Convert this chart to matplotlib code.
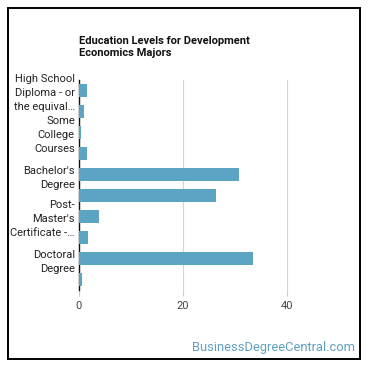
import matplotlib
matplotlib.use("Agg")
import matplotlib.pyplot as plt
from matplotlib.patches import Rectangle

categories = ["High School Diploma - or the equivalent", "Post-Secondary Certificate",
              "Some College Courses", "Associate's Degree", "Bachelor's Degree",
              "Master's Degree", "Post-Master's Certificate", "First Professional Degree",
              "Doctoral Degree", "Post-Doctoral Training"]
values = [1.5, 1.0, 0.3, 1.6, 30.8, 26.3, 3.9, 1.8, 33.5, 0.6]
# only every other label fits on the axis
tick_labels = ["High School\nDiploma - or\nthe equival\u2026", "",
               "Some\nCollege\nCourses", "",
               "Bachelor's\nDegree", "",
               "Post-\nMaster's\nCertificate -\u2026", "",
               "Doctoral\nDegree", ""]
xticks = [0, 20, 40]

plt.rcParams['font.family'] = ['Roboto', 'DejaVu Sans']

fig = plt.figure(figsize=(3.7, 3.7), dpi=100)
ax = fig.add_axes([79/370, 1 - 290/370, 260/370, 210/370])

ypos = list(range(len(categories)))
ax.barh(ypos, values, height=0.62, color='#5ba4c3', zorder=3)
ax.set_ylim(len(categories) - 0.5, -0.5)
ax.set_xlim(0, 50)

ax.set_yticks(ypos)
ax.set_yticklabels(tick_labels, fontsize=8, color='#222222', linespacing=1.5)
ax.tick_params(axis='y', length=0, pad=3)
ax.set_xticks(xticks)
ax.set_xticklabels([str(t) for t in xticks], fontsize=8, color='#444444')
ax.tick_params(axis='x', length=4, color='#cccccc', pad=4)

ax.grid(axis='x', color='#d4d4d4', lw=0.8, zorder=0)
for s in ['top', 'right', 'bottom']:
    ax.spines[s].set_visible(False)
ax.spines['left'].set_color('#111111')
ax.spines['left'].set_linewidth(1.0)

fig.text(79/370, 1 - 36/370, "Education Levels for Development\nEconomics Majors",
         fontsize=8, fontweight='bold', color='#111111', va='top', ha='left',
         linespacing=1.3)
fig.text(355/370, 1 - 347/370, "BusinessDegreeCentral.com", fontsize=9.3,
         color='#5f9fc0', ha='right', va='center')

fig.patches.append(Rectangle((8/370, 11/370), 352/370, 351/370, transform=fig.transFigure,
                             fill=False, edgecolor='black', lw=1.4))

fig.savefig("out.png", dpi=100)
